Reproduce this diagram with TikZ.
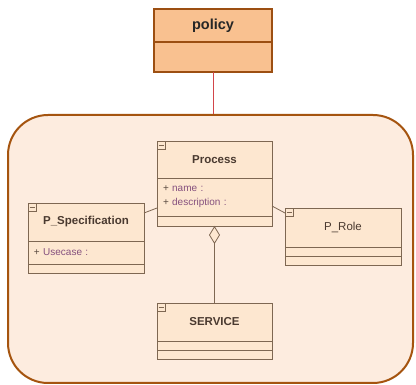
\documentclass[tikz,border=0pt]{standalone}
\usepackage{fontspec}
\setmainfont{Liberation Sans}
\usetikzlibrary{calc, positioning, arrows.meta, shapes}

\definecolor{policyfill}{HTML}{F9C190}
\definecolor{policyline}{HTML}{9C4F12}
\definecolor{domainfill}{HTML}{FDECDF}
\definecolor{domainline}{HTML}{A5540F}
\definecolor{classfill}{HTML}{FDE7D0}
\definecolor{classline}{HTML}{7E6752}
\definecolor{titletext}{HTML}{4A3A30}
\definecolor{attrtext}{HTML}{85507E}
\definecolor{plusgray}{HTML}{5A4A40}
\definecolor{linkred}{HTML}{D2454A}

\newcommand{\umlattr}[1]{\textcolor{plusgray}{+}\ \textcolor{attrtext}{#1}}

\begin{document}
\begin{tikzpicture}[x=1pt, y=-1pt,
        cls/.style={draw=classline, fill=classfill, line width=0.8pt, outer sep=0pt, inner sep=0pt, minimum width=115pt},
        clstitle/.style={cls, font=\fontsize{11.5}{13}\selectfont\bfseries, text=titletext},
        clsattr/.style={cls, font=\fontsize{10}{14}\selectfont, text width=103pt, inner xsep=6pt, align=left},
        clsempty/.style={cls, minimum height=9pt},
        policybox/.style={draw=policyline, fill=policyfill, line width=1.8pt, outer sep=0pt, inner sep=0pt, minimum width=118pt},
        assoc/.style={draw=classline, line width=0.8pt}]

        \useasboundingbox (0,0) rectangle (416,385);

        % package boundary
        \node[draw=domainline, fill=domainfill, line width=2pt, rounded corners=40pt,
            minimum width=405pt, minimum height=268pt] (domain) at (210.5,249) {};

        % policy
        \node[policybox, minimum height=33pt, font=\fontsize{14.5}{16}\selectfont\bfseries, text=black!85] (policy) at (213,25.5) {policy};
        \node[policybox, minimum height=30pt, below=0pt of policy] (policybody) {};

        \draw[linkred, line width=0.8pt] (policybody.south) -- (policybody.south |- domain.north);

        % Process
        \node[clstitle, minimum height=37pt] (proc) at (214.5,159.5) {Process};
        \node[clsattr, minimum height=38pt, below=0pt of proc] (procattr) {\umlattr{name :}\\\umlattr{description :}};
        \node[clsempty, minimum height=10pt, below=0pt of procattr] (procop) {};

        % P_Specification
        \node[clstitle, minimum height=38pt, minimum width=116pt] (spec) at (86,222) {P\_Specification};
        \node[clsattr, minimum height=23pt, text width=104pt, below=0pt of spec] (specattr) {\umlattr{Usecase :}};
        \node[clsempty, minimum width=116pt, below=0pt of specattr] (specop) {};

        % P_Role
        \node[clstitle, minimum height=39pt, minimum width=116pt, font=\fontsize{11.5}{13}\selectfont] (role) at (343,227.5) {P\_Role};
        \node[clsempty, minimum width=116pt, below=0pt of role] (roleattr) {};
        \node[clsempty, minimum width=116pt, below=0pt of roleattr] (roleop) {};

        % SERVICE
        \node[clstitle, minimum height=38pt] (serv) at (214.5,322) {SERVICE};
        \node[clsempty, below=0pt of serv] (servattr) {};
        \node[clsempty, below=0pt of servattr] (servop) {};

        % collapse icons
        \foreach \c in {proc, spec, role, serv}
            \draw[assoc, line width=0.6pt] (\c.north west) rectangle ++(8,8)
                ($(\c.north west)+(1.5,4)$) -- ++(5,0);

        % relations
        \draw[assoc] ([yshift=9pt]spec.east) -- ([yshift=-11pt]procattr.west);
        \draw[assoc] ([yshift=-9pt]procattr.east) -- ([yshift=-5pt]role.north west);
        \draw[assoc, -{Diamond[open, fill=classfill, width=11pt, length=18pt]}] (serv.north) -- (procop.south);
\end{tikzpicture}
\end{document}
